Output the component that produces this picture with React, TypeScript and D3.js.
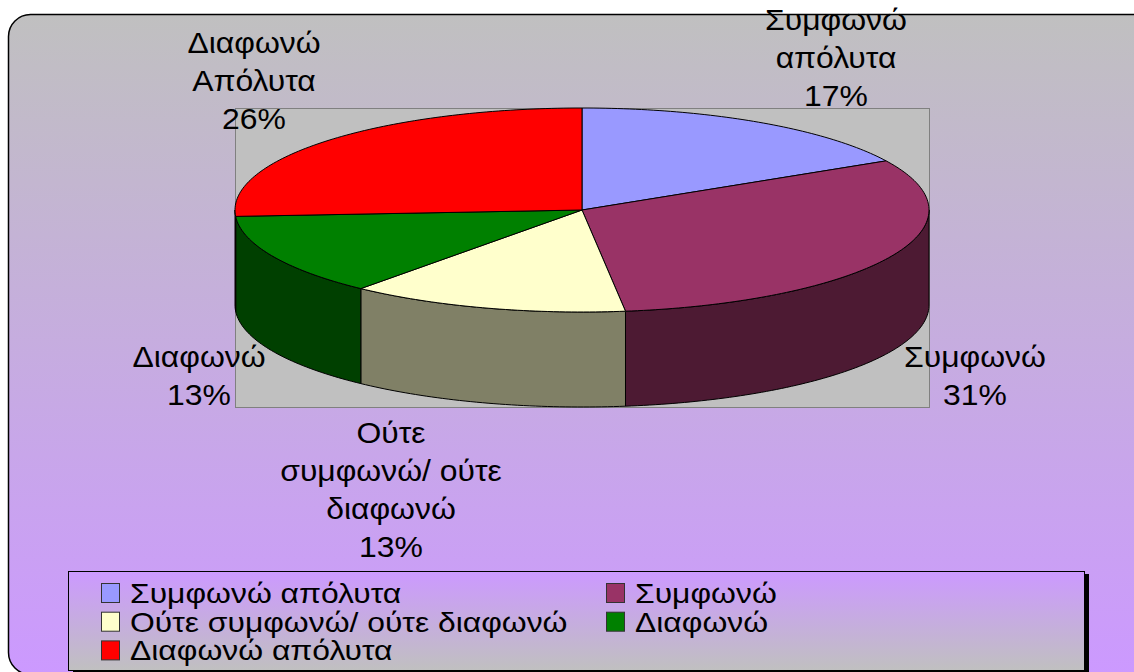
import * as d3 from "d3";

const categories = [
  "Συμφωνώ απόλυτα",
  "Συμφωνώ",
  "Ούτε συμφωνώ/ ούτε διαφωνώ",
  "Διαφωνώ",
  "Διαφωνώ απόλυτα",
];
const values = [17, 31, 13, 13, 26];
const colors = ["#9999FF", "#993366", "#FFFFCC", "#008000", "#FF0000"];
const labelLines = [
  ["Συμφωνώ", "απόλυτα"],
  ["Συμφωνώ"],
  ["Ούτε", "συμφωνώ/ ούτε", "διαφωνώ"],
  ["Διαφωνώ"],
  ["Διαφωνώ", "Απόλυτα"],
];

// where Excel put the data labels (centre x, first baseline)
const labelAnchors = [
  [836, 30],
  [975, 367],
  [391, 443],
  [199, 367],
  [254, 53],
];

const W = 1134;
const H = 672;
const FONT = "'Liberation Sans', Arial, sans-serif";

export default function App() {
  const plot = { x0: 235, x1: 929, y0: 108, y1: 407 };
  const depth = 95;
  const rx = (plot.x1 - plot.x0) / 2;
  const cx = plot.x0 + rx;
  const ry = (plot.y1 - plot.y0 - depth) / 2;
  const cy = plot.y0 + ry;

  const arcs = d3.pie<number>().sort(null).value((d) => d)(values);
  const total = d3.sum(values);
  const pct = d3.format(".0%");

  const pt = (a: number, dy = 0): [number, number] => [
    cx + rx * Math.sin(a),
    cy - ry * Math.cos(a) + dy,
  ];
  const arcPts = (a0: number, a1: number, dy = 0) => {
    const n = Math.max(2, Math.ceil((a1 - a0) / (Math.PI / 180)));
    return d3.range(n + 1).map((i) => pt(a0 + ((a1 - a0) * i) / n, dy));
  };
  const line = d3.line();

  const half = (c: string) => {
    const r = d3.rgb(c);
    return d3.rgb(r.r * 0.5, r.g * 0.5, r.b * 0.5).formatHex();
  };

  // only the front half of the rim shows
  const sides = arcs
    .map((a, i) => {
      const s = Math.max(a.startAngle, Math.PI / 2);
      const e = Math.min(a.endAngle, (3 * Math.PI) / 2);
      if (e <= s) return null;
      const d =
        line([...arcPts(s, e), ...arcPts(s, e, depth).reverse()]) + "Z";
      return { d, fill: half(colors[i]), key: i };
    })
    .filter(Boolean) as { d: string; fill: string; key: number }[];

  const tops = arcs.map((a, i) => ({
    d: line([[cx, cy], ...arcPts(a.startAngle, a.endAngle)]) + "Z",
    fill: colors[i],
  }));

  const legend = { x: 68, y: 571, w: 1016, h: 99 };
  const legCols = [101, 606];
  const legRowTop = 583;
  const legRowStep = 28.7;
  const lineH = 38;
  const labelStretch = 1.1;
  const legendStretch = 1.18;

  return (
    <svg
      width={W}
      height={H}
      style={{ position: "absolute", left: 0, top: 0 }}
      fontFamily={FONT}
    >
      <defs>
        <linearGradient id="bg" x1="0" y1="0" x2="0" y2="1">
          <stop offset="0" stopColor="#C0C0C0" />
          <stop offset="1" stopColor="#CC99FF" />
        </linearGradient>
        <linearGradient id="leg" x1="0" y1="0" x2="0" y2="1">
          <stop offset="0" stopColor="#CC99FF" />
          <stop offset="1" stopColor="#C0C0C0" />
        </linearGradient>
      </defs>
      <rect width={W} height={H} fill="#FFFFFF" />
      <rect
        x={8.5}
        y={14.5}
        width={1150}
        height={660}
        rx={22}
        fill="url(#bg)"
        stroke="#000"
        strokeWidth={1.5}
      />
      <rect
        x={plot.x0 + 0.5}
        y={plot.y0 + 0.5}
        width={plot.x1 - plot.x0}
        height={plot.y1 - plot.y0}
        fill="#C0C0C0"
        stroke="#808080"
        strokeWidth={1}
      />
      {sides.map((s) => (
        <path key={"s" + s.key} d={s.d} fill={s.fill} stroke="#000" strokeWidth={1} />
      ))}
      {tops.map((t, i) => (
        <path key={"t" + i} d={t.d} fill={t.fill} stroke="#000" strokeWidth={1} strokeLinejoin="round" />
      ))}
      {labelLines.map((lines, i) => {
        const [x, y] = labelAnchors[i];
        const all = [...lines, pct(values[i] / total)];
        return (
          <text
            key={"l" + i}
            transform={`translate(${x},${y}) scale(${labelStretch},1)`}
            textAnchor="middle"
            fontSize={29}
            fill="#000"
          >
            {all.map((t, j) => (
              <tspan key={j} x={0} y={j * lineH}>
                {t}
              </tspan>
            ))}
          </text>
        );
      })}
      <rect x={legend.x + 5} y={legend.y + 3} width={legend.w} height={legend.h + 10} fill="#000" />
      <rect
        x={legend.x + 0.5}
        y={legend.y + 0.5}
        width={legend.w}
        height={legend.h}
        fill="url(#leg)"
        stroke="#000"
        strokeWidth={1}
      />
      {categories.map((c, i) => {
        const x = legCols[i % 2];
        const y = legRowTop + Math.floor(i / 2) * legRowStep;
        return (
          <g key={"g" + i}>
            <rect x={x + 0.5} y={y + 0.5} width={18} height={19} fill={colors[i]} stroke="#333" strokeWidth={1} />
            <text
              transform={`translate(${x + 29},${y + 20}) scale(${legendStretch},1)`}
              fontSize={27}
              fill="#000"
            >
              {c}
            </text>
          </g>
        );
      })}
    </svg>
  );
}
